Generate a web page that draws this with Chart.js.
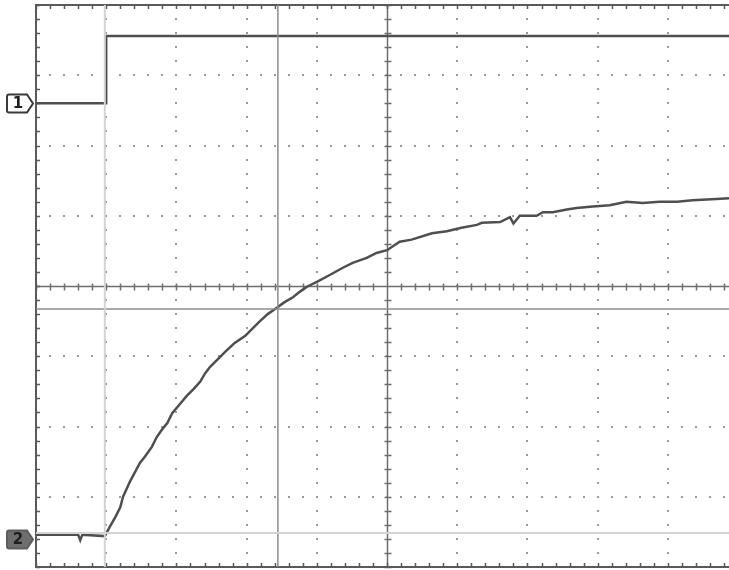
<!DOCTYPE html>
<html>
<head>
<meta charset="utf-8">
<script src="https://cdn.jsdelivr.net/npm/chart.js@4/dist/chart.umd.min.js"></script>
<style>
  html, body { margin: 0; padding: 0; background: #ffffff; }
  #wrap { width: 729px; height: 570px; }
</style>
</head>
<body>
<div id="wrap"><canvas id="scope" width="729" height="570"></canvas></div>
<script>
// screen in divisions: 0..10 across (right edge cut off), 0..8 high
const xDivs = [0, 1, 2, 3, 4, 5, 6, 7, 8, 9, 10];
const yDivs = [0, 1, 2, 3, 4, 5, 6, 7, 8];

// channel 1: step input
const ch1X = [0, 1.0, 1.0, 9.87];
const ch1Y = [6.60, 6.60, 7.56, 7.56];

// channel 2: response
const ch2X = [0, 0.60, 0.63, 0.66, 0.98, 1.05, 1.13, 1.20, 1.24, 1.34, 1.41, 1.48, 1.55, 1.65,
  1.72, 1.79, 1.87, 1.94, 2.05, 2.15, 2.24, 2.34, 2.41, 2.48, 2.58, 2.69, 2.83, 2.98, 3.09,
  3.19, 3.30, 3.43, 3.54, 3.66, 3.76, 3.86, 4.00, 4.19, 4.37, 4.51, 4.71, 4.85, 5.00, 5.18,
  5.35, 5.64, 5.85, 6.06, 6.28, 6.35, 6.61, 6.75, 6.80, 6.89, 7.13, 7.22, 7.36, 7.56, 7.70,
  7.93, 8.17, 8.41, 8.64, 8.88, 9.13, 9.35, 9.69, 9.87];
const ch2Y = [0.46, 0.46, 0.38, 0.46, 0.44, 0.57, 0.71, 0.85, 1.00, 1.22, 1.35, 1.48, 1.57, 1.71,
  1.85, 1.95, 2.05, 2.19, 2.32, 2.44, 2.53, 2.64, 2.76, 2.85, 2.95, 3.06, 3.19, 3.29, 3.40,
  3.50, 3.60, 3.69, 3.77, 3.84, 3.92, 3.99, 4.06, 4.16, 4.26, 4.33, 4.40, 4.47, 4.51, 4.63,
  4.66, 4.75, 4.78, 4.83, 4.87, 4.90, 4.91, 4.98, 4.89, 5.00, 5.00, 5.05, 5.05, 5.09, 5.11,
  5.13, 5.15, 5.20, 5.18, 5.20, 5.20, 5.22, 5.24, 5.25];

// cursors
const trigX = 0.98, cursorX = 3.445;
const cursorY = 3.673, refY = 0.484;

// channel marker levels
const markers = [
  { label: '1', level: 6.60, filled: false },
  { label: '2', level: 0.40, filled: true }
];

const pts = (xs, ys) => xs.map((x, i) => ({ x: x, y: ys[i] }));

const scopeGrid = {
  id: 'scopeGrid',
  beforeDatasetsDraw(chart) {
    const { ctx, chartArea: a, scales: { x, y } } = chart;
    ctx.save();
    // dotted graticule
    ctx.fillStyle = '#9a9a9a';
    xDivs.forEach(d => {
      if (d === 0 || d === 5 || d === 10) return;
      const px = Math.round(x.getPixelForValue(d));
      for (let s = 0; s <= 40; s++) {
        const py = y.getPixelForValue(s * 0.2);
        ctx.fillRect(px - 1, Math.round(py) - 1, 2, 2);
      }
    });
    yDivs.forEach(d => {
      if (d === 0 || d === 4 || d === 8) return;
      const py = Math.round(y.getPixelForValue(d));
      for (let s = 0; s <= 50; s++) {
        const px = x.getPixelForValue(s * 0.2);
        ctx.fillRect(Math.round(px) - 1, py - 1, 2, 2);
      }
    });
    // centre lines with minor ticks
    ctx.strokeStyle = '#6e6e6e';
    ctx.lineWidth = 1.5;
    const cx = Math.round(x.getPixelForValue(5)) + 0.5;
    const cy = Math.round(y.getPixelForValue(4)) + 0.5;
    ctx.beginPath();
    ctx.moveTo(cx, a.top); ctx.lineTo(cx, a.bottom);
    ctx.moveTo(a.left, cy); ctx.lineTo(a.right, cy);
    for (let s = 0; s <= 40; s++) {
      const py = Math.round(y.getPixelForValue(s * 0.2)) + 0.5;
      ctx.moveTo(cx - 3, py); ctx.lineTo(cx + 4, py);
    }
    for (let s = 0; s <= 50; s++) {
      const px = Math.round(x.getPixelForValue(s * 0.2)) + 0.5;
      ctx.moveTo(px, cy - 3); ctx.lineTo(px, cy + 4);
    }
    ctx.stroke();
    // frame with inward ticks
    ctx.strokeStyle = '#5a5a5a';
    ctx.lineWidth = 2;
    ctx.beginPath();
    ctx.moveTo(a.right, a.top); ctx.lineTo(a.left, a.top);
    ctx.lineTo(a.left, a.bottom); ctx.lineTo(a.right, a.bottom);
    ctx.stroke();
    ctx.lineWidth = 1.5;
    ctx.beginPath();
    for (let s = 0; s <= 50; s++) {
      const px = Math.round(x.getPixelForValue(s * 0.2)) + 0.5;
      ctx.moveTo(px, a.top); ctx.lineTo(px, a.top + 4);
      ctx.moveTo(px, a.bottom); ctx.lineTo(px, a.bottom - 4);
    }
    for (let s = 0; s <= 40; s++) {
      const py = Math.round(y.getPixelForValue(s * 0.2)) + 0.5;
      ctx.moveTo(a.left, py); ctx.lineTo(a.left + 4, py);
    }
    ctx.stroke();
    ctx.restore();
  },
  afterDraw(chart) {
    const { ctx, scales: { y } } = chart;
    ctx.save();
    markers.forEach(m => {
      const py = Math.round(y.getPixelForValue(m.level)) + 0.5;
      ctx.beginPath();
      ctx.moveTo(9, py - 9);
      ctx.lineTo(27, py - 9);
      ctx.lineTo(33, py);
      ctx.lineTo(27, py + 9);
      ctx.lineTo(9, py + 9);
      ctx.quadraticCurveTo(7, py + 9, 7, py + 7);
      ctx.lineTo(7, py - 7);
      ctx.quadraticCurveTo(7, py - 9, 9, py - 9);
      ctx.closePath();
      ctx.lineWidth = 2;
      ctx.strokeStyle = m.filled ? '#5e5e5e' : '#3a3a3a';
      ctx.fillStyle = m.filled ? '#6e6e6e' : '#ffffff';
      ctx.fill();
      ctx.stroke();
      ctx.fillStyle = '#1e1e1e';
      ctx.font = 'bold 15px "DejaVu Sans", sans-serif';
      ctx.textAlign = 'center';
      ctx.textBaseline = 'middle';
      ctx.fillText(m.label, 18, py + 1);
    });
    ctx.restore();
  }
};

const lineSet = (data, color, width) => ({
  data: data,
  borderColor: color,
  borderWidth: width,
  pointRadius: 0,
  fill: false,
  tension: 0
});

new Chart(document.getElementById('scope'), {
  type: 'line',
  data: {
    datasets: [
      lineSet(pts([trigX, trigX], [0, 8]), '#d4d4d4', 2),
      lineSet(pts([0, 9.87], [refY, refY]), '#d4d4d4', 2),
      lineSet(pts([cursorX, cursorX], [0, 8]), '#8c8c8c', 1.5),
      lineSet(pts([0, 9.87], [cursorY, cursorY]), '#8c8c8c', 1.5),
      lineSet(pts(ch1X, ch1Y), '#4f4f4f', 2.5),
      lineSet(pts(ch2X, ch2Y), '#4f4f4f', 2.5)
    ]
  },
  options: {
    responsive: false,
    animation: false,
    events: [],
    layout: { padding: { left: 36, top: 5, right: 0, bottom: 3 } },
    plugins: { legend: { display: false }, tooltip: { enabled: false } },
    scales: {
      x: { type: 'linear', min: 0, max: 9.87, display: false },
      y: { type: 'linear', min: 0, max: 8, display: false }
    }
  },
  plugins: [scopeGrid]
});
</script>
</body>
</html>
